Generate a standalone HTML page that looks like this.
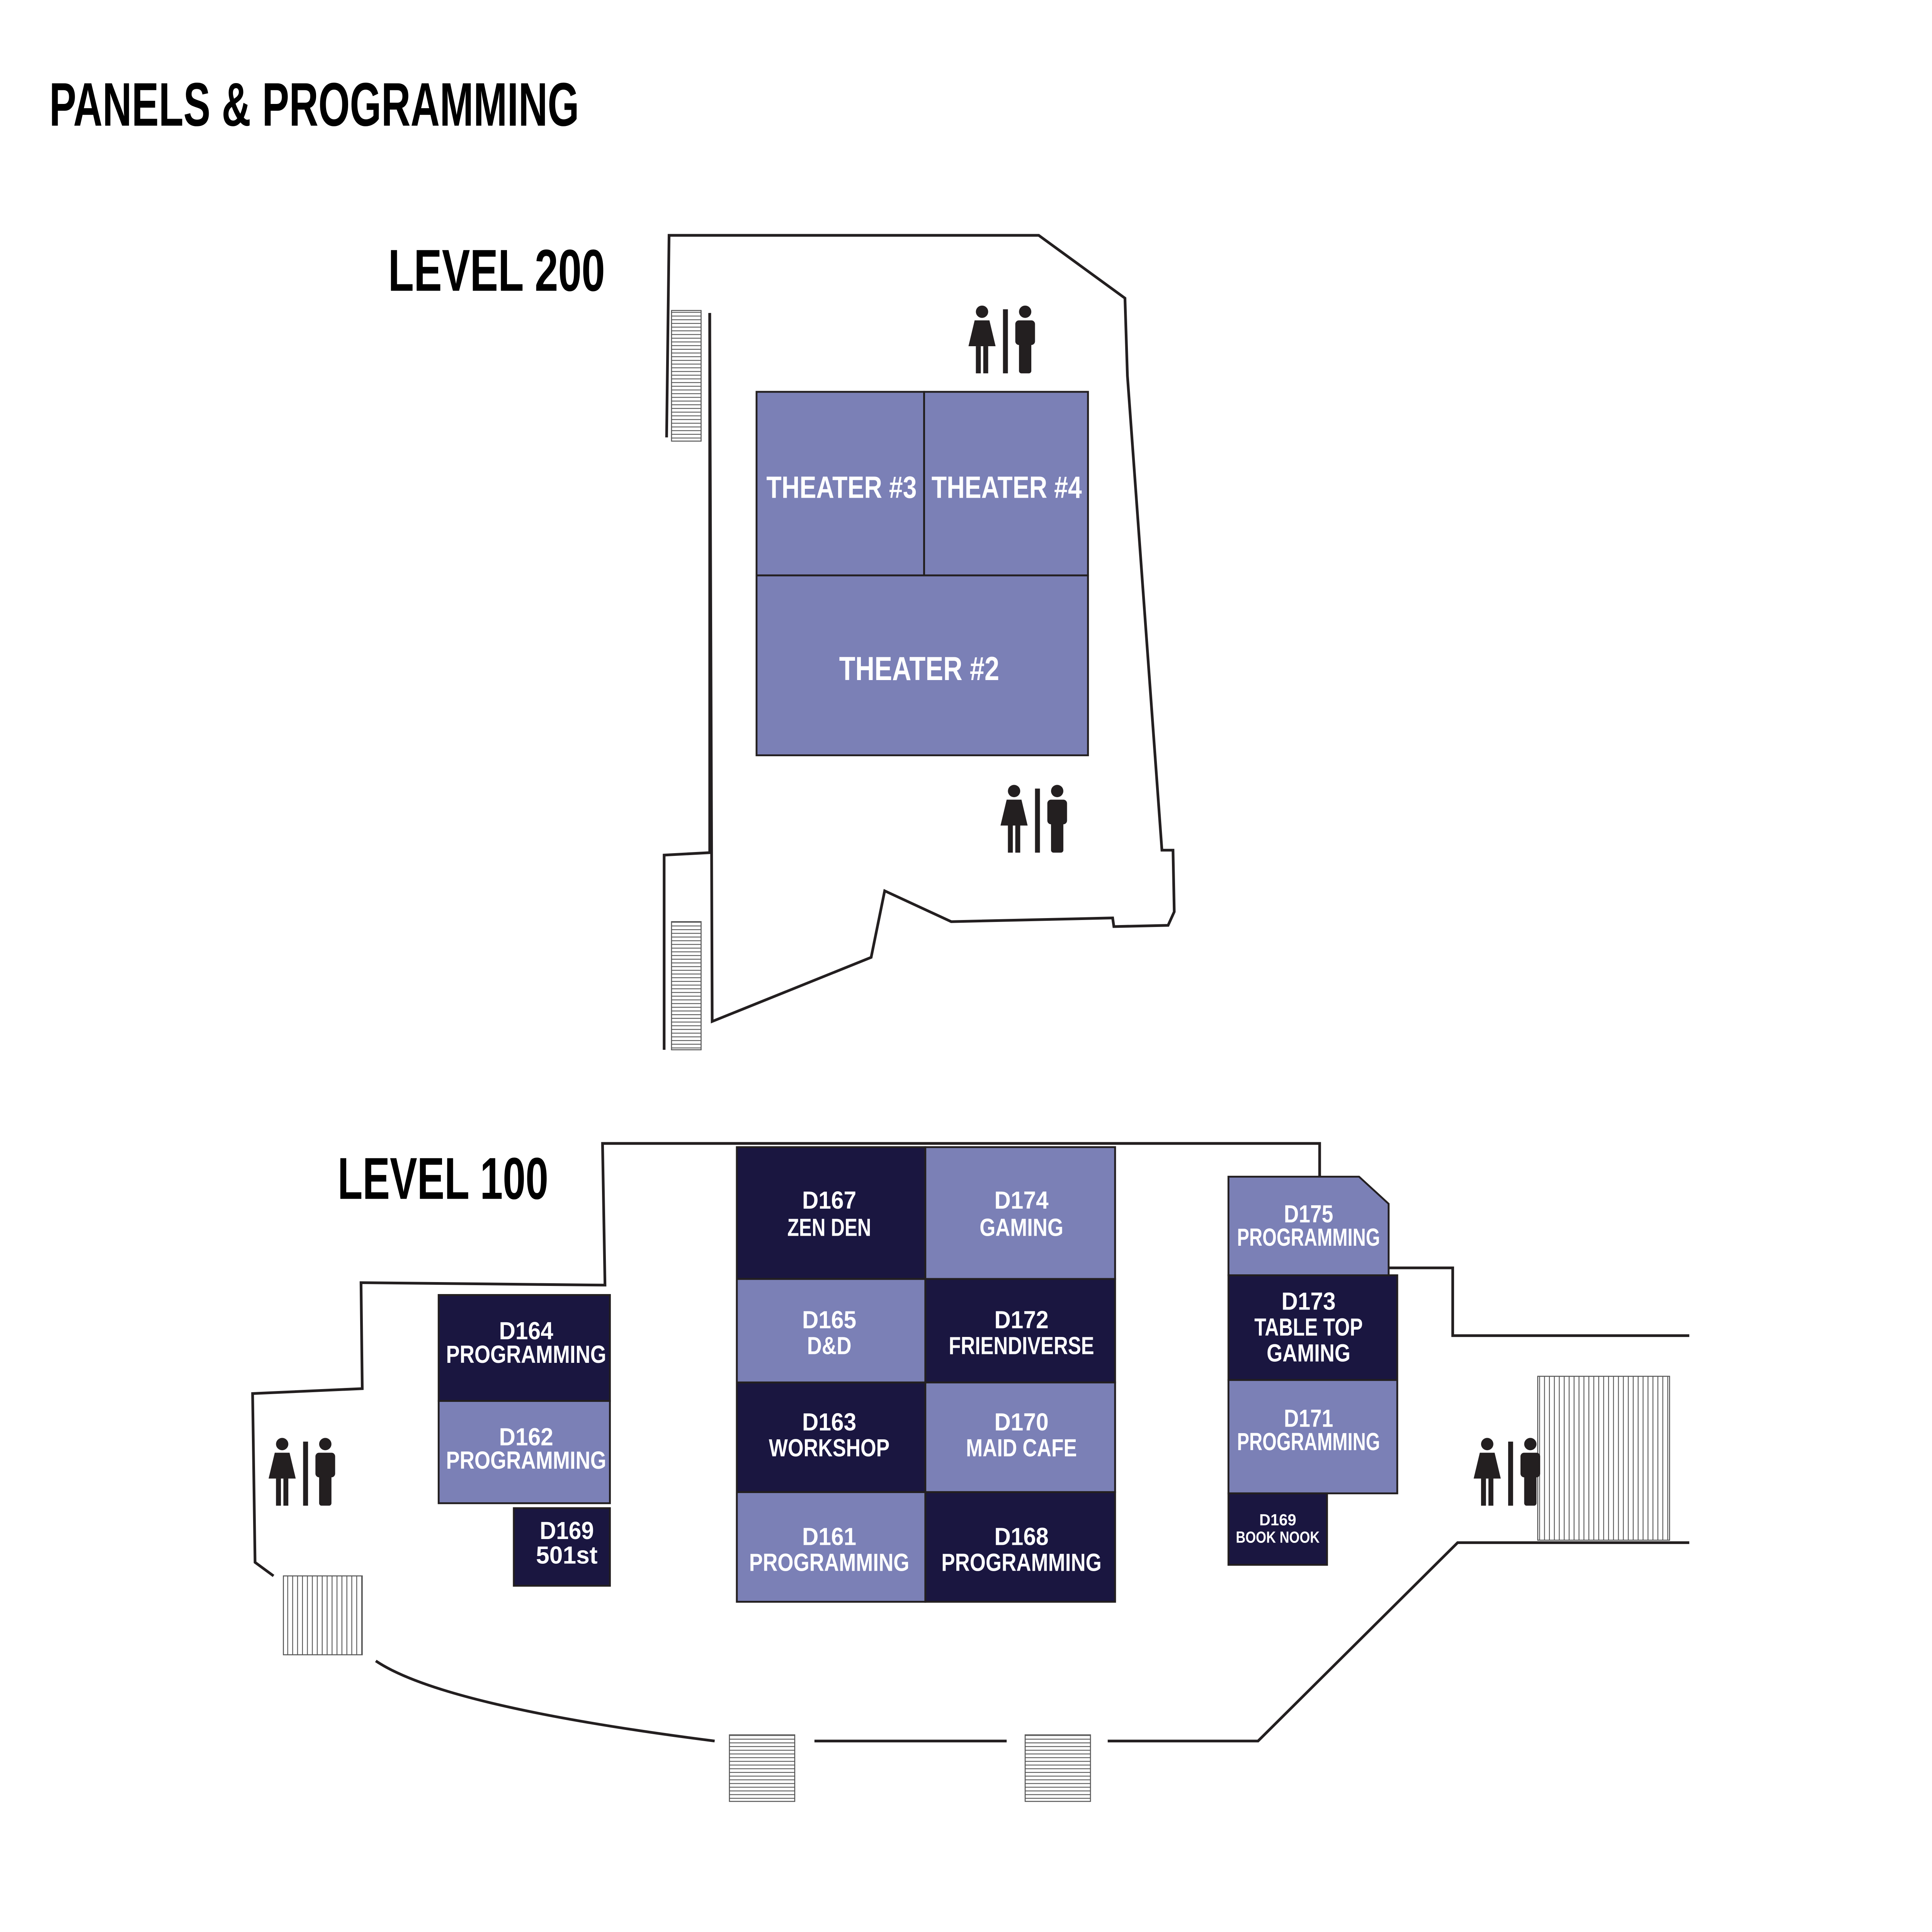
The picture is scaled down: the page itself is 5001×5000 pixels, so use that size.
<!DOCTYPE html>
<html><head><meta charset="utf-8"><style>
html,body{margin:0;padding:0;background:#fff}
svg{display:block}
text{font-family:"Liberation Sans Narrow","Liberation Sans",sans-serif;font-weight:bold}
.r{fill:#fff;font-size:20px;text-anchor:middle}
</style></head><body>
<svg width="5001" height="5000" viewBox="0 0 1568.3 1568" preserveAspectRatio="none" xmlns="http://www.w3.org/2000/svg">
<defs>
<pattern id="hl" width="4" height="3" patternUnits="userSpaceOnUse"><rect width="4" height="3" fill="#fff"/><line x1="0" y1="1.5" x2="4" y2="1.5" stroke="#555" stroke-width="0.7"/></pattern>
<pattern id="vl" width="4" height="4" patternUnits="userSpaceOnUse"><rect width="4" height="4" fill="#fff"/><line x1="1.5" y1="0" x2="1.5" y2="4" stroke="#555" stroke-width="0.7"/></pattern>
<g id="wc" fill="#231f20">
<circle cx="11" cy="5" r="5"/>
<path d="M5 12 H17 L22 33 H0 Z"/>
<rect x="6" y="33" width="4" height="22"/><rect x="12" y="33" width="4" height="22"/>
<rect x="28" y="3" width="4" height="52"/>
<circle cx="46" cy="5" r="5"/>
<rect x="38" y="12" width="16" height="20" rx="3"/>
<rect x="41" y="28" width="10" height="27" rx="2"/>
</g>
</defs>
<text x="40" y="102" font-size="50" textLength="430" lengthAdjust="spacingAndGlyphs">PANELS &amp; PROGRAMMING</text>
<text x="315" y="236" font-size="48" textLength="176" lengthAdjust="spacingAndGlyphs">LEVEL 200</text>
<text x="274" y="973" font-size="48" textLength="171" lengthAdjust="spacingAndGlyphs">LEVEL 100</text>

<g fill="none" stroke="#231f20" stroke-width="2.2">
<path d="M541 355 L543 191 H843 L913 242 L915 305 L943 690 H952 L953 740 L948 751 L904 752 L903 745 L772 748 L718 723 L707 777 L578 829 L576 254"/>
<path d="M576 254 V692 L539 694 V852"/>
<path d="M1371 1084 H1179 V1029 H1127 M1071 955 V928 H489 L491 1043 L293 1041 L294 1127 L205 1131 L207 1268 L222 1279"/>
<path d="M305 1348 Q360 1385 580 1413"/>
<path d="M661 1413 H817 M899 1413 H1021 L1183 1252 H1371"/>
</g>
<g stroke="#555" stroke-width="0.8">
<rect x="545" y="252" width="24" height="106" fill="url(#hl)"/>
<rect x="545" y="748" width="24" height="104" fill="url(#hl)"/>
<rect x="1248" y="1117" width="107" height="133" fill="url(#vl)"/>
<rect x="592" y="1408" width="53" height="54" fill="url(#hl)"/>
<rect x="832" y="1408" width="53" height="54" fill="url(#hl)"/>
<rect x="230" y="1279" width="64" height="64" fill="url(#vl)"/>
</g>

<g stroke="#231f20" stroke-width="1.5">
<rect x="614" y="318" width="136" height="149" fill="#7b80b6"/>
<rect x="750" y="318" width="133" height="149" fill="#7b80b6"/>
<rect x="614" y="467" width="269" height="146" fill="#7b80b6"/>
<rect x="598" y="931" width="153" height="107" fill="#1a1640"/>
<rect x="751" y="931" width="154" height="107" fill="#7b80b6"/>
<rect x="598" y="1038" width="153" height="84" fill="#7b80b6"/>
<rect x="751" y="1038" width="154" height="84" fill="#1a1640"/>
<rect x="598" y="1122" width="153" height="89" fill="#1a1640"/>
<rect x="751" y="1122" width="154" height="89" fill="#7b80b6"/>
<rect x="598" y="1211" width="153" height="89" fill="#7b80b6"/>
<rect x="751" y="1211" width="154" height="89" fill="#1a1640"/>
<rect x="356" y="1051" width="139" height="86" fill="#1a1640"/>
<rect x="356" y="1137" width="139" height="83" fill="#7b80b6"/>
<rect x="417" y="1224" width="78" height="63" fill="#1a1640"/>
<path d="M997 955 H1103 L1127 977 V1035 H997 Z" fill="#7b80b6"/>
<rect x="997" y="1035" width="137" height="85" fill="#1a1640"/>
<rect x="997" y="1120" width="137" height="92" fill="#7b80b6"/>
<rect x="997" y="1212" width="80" height="58" fill="#1a1640"/>
</g>

<use href="#wc" x="786" y="248"/>
<use href="#wc" x="812" y="637"/>
<use href="#wc" x="218" y="1167"/>
<use href="#wc" x="1196" y="1167"/>

<g class="r" lengthAdjust="spacingAndGlyphs">
<text x="683" y="404" font-size="25" textLength="122" lengthAdjust="spacingAndGlyphs">THEATER #3</text>
<text x="817" y="404" font-size="25" textLength="122" lengthAdjust="spacingAndGlyphs">THEATER #4</text>
<text x="746" y="552" font-size="27" textLength="130" lengthAdjust="spacingAndGlyphs">THEATER #2</text>
<text x="673" y="981" textLength="44" lengthAdjust="spacingAndGlyphs">D167</text><text x="673" y="1003" textLength="68" lengthAdjust="spacingAndGlyphs">ZEN DEN</text>
<text x="829" y="981" textLength="44" lengthAdjust="spacingAndGlyphs">D174</text><text x="829" y="1003" textLength="68" lengthAdjust="spacingAndGlyphs">GAMING</text>
<text x="673" y="1078" textLength="44" lengthAdjust="spacingAndGlyphs">D165</text><text x="673" y="1099" textLength="36" lengthAdjust="spacingAndGlyphs">D&amp;D</text>
<text x="829" y="1078" textLength="44" lengthAdjust="spacingAndGlyphs">D172</text><text x="829" y="1099" textLength="118" lengthAdjust="spacingAndGlyphs">FRIENDIVERSE</text>
<text x="673" y="1161" textLength="44" lengthAdjust="spacingAndGlyphs">D163</text><text x="673" y="1182" textLength="98" lengthAdjust="spacingAndGlyphs">WORKSHOP</text>
<text x="829" y="1161" textLength="44" lengthAdjust="spacingAndGlyphs">D170</text><text x="829" y="1182" textLength="90" lengthAdjust="spacingAndGlyphs">MAID CAFE</text>
<text x="673" y="1254" textLength="44" lengthAdjust="spacingAndGlyphs">D161</text><text x="673" y="1275" textLength="130" lengthAdjust="spacingAndGlyphs">PROGRAMMING</text>
<text x="829" y="1254" textLength="44" lengthAdjust="spacingAndGlyphs">D168</text><text x="829" y="1275" textLength="130" lengthAdjust="spacingAndGlyphs">PROGRAMMING</text>
<text x="427" y="1087" textLength="44" lengthAdjust="spacingAndGlyphs">D164</text><text x="427" y="1106" textLength="130" lengthAdjust="spacingAndGlyphs">PROGRAMMING</text>
<text x="427" y="1173" textLength="44" lengthAdjust="spacingAndGlyphs">D162</text><text x="427" y="1192" textLength="130" lengthAdjust="spacingAndGlyphs">PROGRAMMING</text>
<text x="460" y="1249" textLength="44" lengthAdjust="spacingAndGlyphs">D169</text><text x="460" y="1269" textLength="50" lengthAdjust="spacingAndGlyphs">501st</text>
<text x="1062" y="992" textLength="40" lengthAdjust="spacingAndGlyphs">D175</text><text x="1062" y="1011" textLength="116" lengthAdjust="spacingAndGlyphs">PROGRAMMING</text>
<text x="1062" y="1063" textLength="44" lengthAdjust="spacingAndGlyphs">D173</text><text x="1062" y="1084" textLength="88" lengthAdjust="spacingAndGlyphs">TABLE TOP</text><text x="1062" y="1105" textLength="68" lengthAdjust="spacingAndGlyphs">GAMING</text>
<text x="1062" y="1158" textLength="40" lengthAdjust="spacingAndGlyphs">D171</text><text x="1062" y="1177" textLength="116" lengthAdjust="spacingAndGlyphs">PROGRAMMING</text>
<text x="1037" y="1238" font-size="13" textLength="30" lengthAdjust="spacingAndGlyphs">D169</text><text x="1037" y="1252" font-size="13" textLength="68" lengthAdjust="spacingAndGlyphs">BOOK NOOK</text>
</g>
</svg>
</body></html>
